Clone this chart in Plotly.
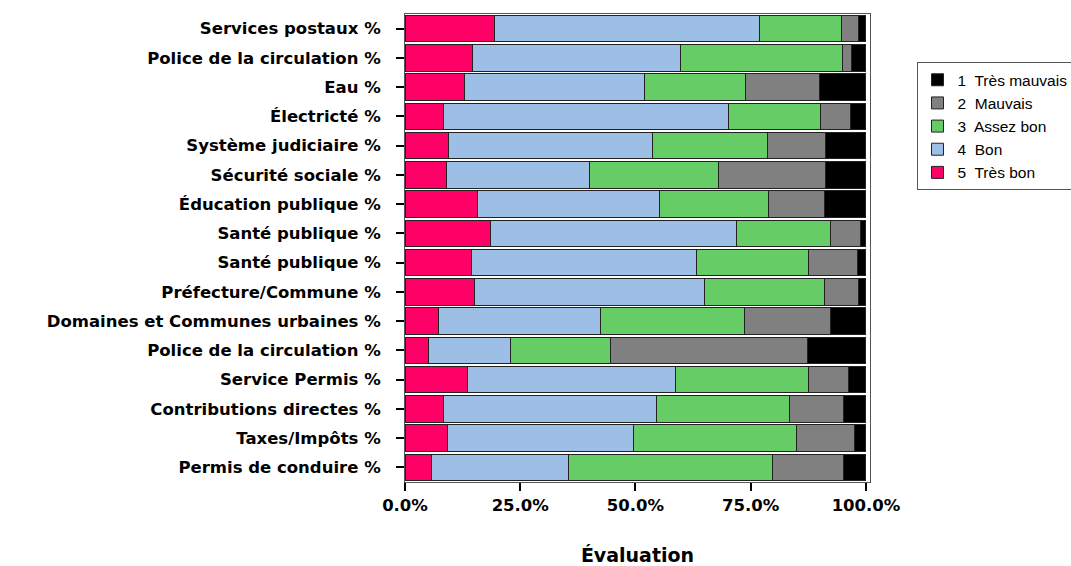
import plotly.graph_objects as go

# Services rated, listed top to bottom
services = [
    "Services postaux %",
    "Police de la circulation %",
    "Eau %",
    "Électricté %",
    "Système judiciaire %",
    "Sécurité sociale %",
    "Éducation publique %",
    "Santé publique %",
    "Santé publique %",
    "Préfecture/Commune %",
    "Domaines et Communes urbaines %",
    "Police de la circulation %",
    "Service Permis %",
    "Contributions directes %",
    "Taxes/Impôts %",
    "Permis de conduire %",
]

# Share of answers per rating (percent), same order as services
tres_bon = [19.4, 14.7, 12.9, 8.4, 9.5, 8.9, 15.8, 18.5, 14.4, 15.0, 7.2, 5.1, 13.5, 8.4, 9.2, 5.7]
bon = [57.5, 45.0, 39.1, 61.7, 44.2, 31.2, 39.4, 53.4, 48.9, 49.9, 35.2, 17.7, 45.1, 46.1, 40.4, 29.8]
assez_bon = [17.8, 35.3, 21.9, 20.0, 24.9, 27.8, 23.7, 20.5, 24.2, 26.1, 31.2, 21.7, 28.9, 28.9, 35.3, 44.3]
mauvais = [3.7, 1.9, 16.1, 6.6, 12.6, 23.3, 12.0, 6.3, 10.6, 7.4, 18.8, 42.9, 8.8, 11.8, 12.6, 15.4]
tres_mauvais = [1.6, 3.1, 10.0, 3.3, 8.8, 8.8, 9.1, 1.3, 1.9, 1.6, 7.6, 12.6, 3.7, 4.8, 2.5, 4.8]

series = [
    ("5  Très bon", tres_bon, "#FF0066"),
    ("4  Bon", bon, "#9DBFE6"),
    ("3  Assez bon", assez_bon, "#66CC66"),
    ("2  Mauvais", mauvais, "#808080"),
    ("1  Très mauvais", tres_mauvais, "#000000"),
]

tick_values = [0, 0.25, 0.5, 0.75, 1.0]
tick_labels = ["<b>0.0%</b>", "<b>25.0%</b>", "<b>50.0%</b>", "<b>75.0%</b>", "<b>100.0%</b>"]

positions = list(range(len(services)))

fig = go.Figure()
for name, values, color in series:
    fig.add_trace(go.Bar(
        y=positions,
        x=[v / 100 for v in values],
        orientation="h",
        name=name,
        marker=dict(color=color, line=dict(color="#222222", width=1)),
        hovertemplate="%{x:.1%}<extra>" + name + "</extra>",
    ))

bold_font = dict(family="DejaVu Sans", size=16.5, color="black")

fig.update_layout(
    barmode="stack",
    bargap=0.1,
    width=1071,
    height=566,
    margin=dict(l=405, r=201, t=14, b=84, autoexpand=False),
    paper_bgcolor="white",
    plot_bgcolor="white",
    font=dict(family="Liberation Sans", color="black"),
    legend=dict(
        traceorder="reversed",
        x=1.1, xanchor="left",
        y=0.897, yanchor="top",
        bordercolor="#555555",
        borderwidth=1,
        font=dict(family="Liberation Sans", size=15.5, color="black"),
        itemwidth=30,
        tracegroupgap=0,
    ),
    xaxis=dict(
        automargin=False,
        range=[0, 1.0087],
        tickvals=tick_values,
        ticktext=tick_labels,
        tickfont=bold_font,
        ticks="outside",
        ticklen=8,
        tickwidth=2,
        tickcolor="black",
        ticklabelstandoff=0,
        showgrid=False,
        zeroline=False,
        showline=True,
        linecolor="#555555",
        linewidth=1,
        mirror=True,
        title=dict(text="<b>Évaluation</b>", font=dict(family="DejaVu Sans", size=19, color="black"), standoff=44),
    ),
    yaxis=dict(
        automargin=False,
        range=[len(services) - 0.5, -0.5],
        tickvals=positions,
        ticktext=["<b>" + s + "</b>" for s in services],
        tickfont=bold_font,
        ticks="outside",
        ticklen=8,
        tickwidth=2,
        tickcolor="black",
        ticklabelstandoff=12,
        showgrid=False,
        zeroline=False,
        showline=True,
        linecolor="#555555",
        linewidth=1,
        mirror=True,
    ),
)

fig.write_html("out.html")
